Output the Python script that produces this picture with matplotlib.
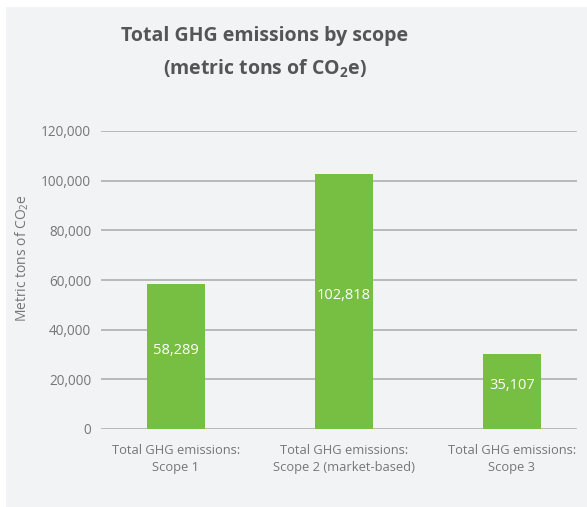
import matplotlib.pyplot as plt
from matplotlib.patches import Rectangle

plt.rcParams.update({
    "font.family": ["Open Sans", "DejaVu Sans"],
    "mathtext.default": "regular",
})

# --- data ---
categories = ["Total GHG emissions:\nScope 1",
              "Total GHG emissions:\nScope 2 (market-based)",
              "Total GHG emissions:\nScope 3"]
bar_heights = [58289, 102818, 30400]      # as drawn
bar_labels = ["58,289", "102,818", "35,107"]  # as printed
yticks = [0, 20000, 40000, 60000, 80000, 100000, 120000]

GREEN = "#76bf43"
BG = "#f2f3f5"
TXT = "#767676"

fig = plt.figure(figsize=(5.87, 5.07), dpi=100)
fig.patch.set_facecolor("white")
fig.patches.append(Rectangle((6 / 587, 0.0), 1 - 6 / 587, 1 - 7 / 507,
                             transform=fig.transFigure, facecolor=BG,
                             edgecolor="none", zorder=-5))

ax = fig.add_axes([101 / 587, 1 - 429 / 507, 476 / 587, 298 / 507])
ax.set_facecolor("none")
ax.set_zorder(2)

x = range(len(categories))
bars = ax.bar(x, bar_heights, width=0.345, color=GREEN, zorder=3)

for b, lab in zip(bars, bar_labels):
    ax.text(b.get_x() + b.get_width() / 2, b.get_height() / 2 + 2500, lab,
            ha="center", va="center", color="white", fontsize=10.5, zorder=4)

ax.set_xlim(-0.446, 2.387)
ax.set_ylim(0, 120000)
ax.set_yticks(yticks)
ax.set_yticklabels([f"{v:,}" for v in yticks])
ax.set_xticks(list(x))
ax.set_xticklabels(categories, linespacing=1.35)
ax.tick_params(axis="both", length=0, colors=TXT)
ax.tick_params(axis="y", pad=7, labelsize=9.8)
ax.tick_params(axis="x", pad=11, labelsize=9.3)
ax.yaxis.grid(True, color="#a9a9a9", linewidth=1.1, zorder=1)
ax.set_axisbelow(True)
for s in ax.spines.values():
    s.set_visible(False)

fig.text(22 / 587, 1 - 258 / 507, "Metric tons of CO$_2$e", rotation=90,
         ha="center", va="center", color=TXT, fontsize=10)

fig.text(265 / 587, 1 - 36 / 507, "Total GHG emissions by scope",
         ha="center", va="center", fontsize=14, fontweight="bold", color="#555555")
fig.text(265 / 587, 1 - 69 / 507, "(metric tons of CO$_2$e)",
         ha="center", va="center", fontsize=14, fontweight="bold", color="#555555")

fig.savefig("out.png", dpi=100, facecolor=fig.get_facecolor())
